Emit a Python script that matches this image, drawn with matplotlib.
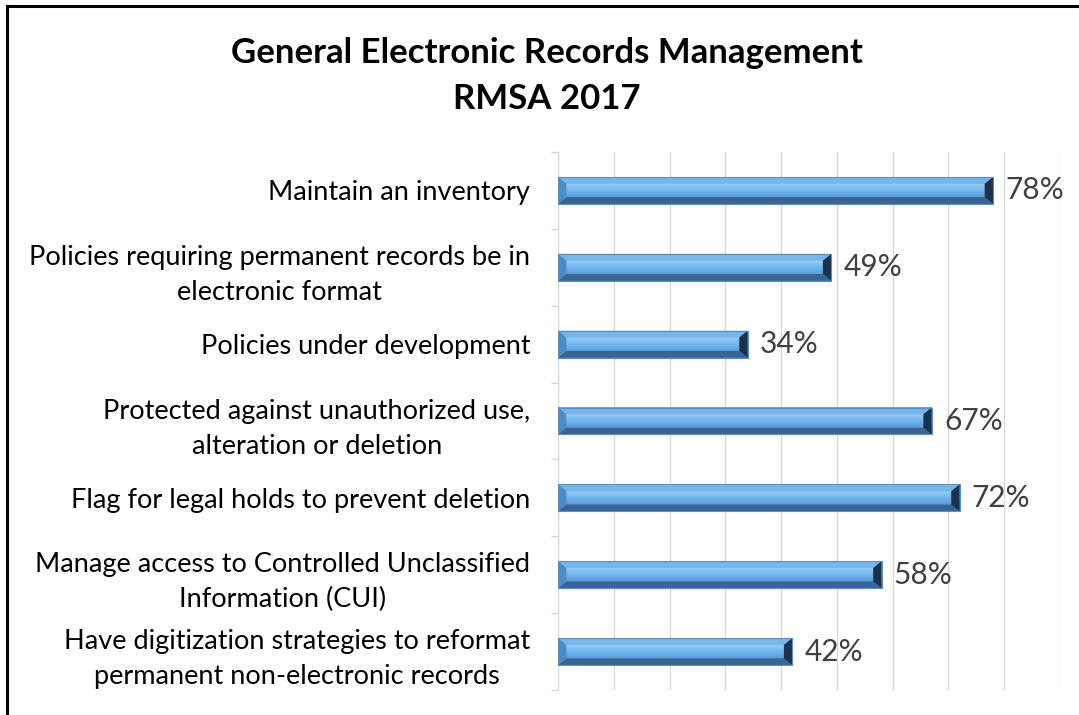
import numpy as np
import matplotlib.pyplot as plt
from matplotlib.colors import LinearSegmentedColormap
from matplotlib.patches import Polygon
from matplotlib.lines import Line2D

categories = [
    'Maintain an inventory',
    'Policies requiring permanent records be in\nelectronic format',
    'Policies under development',
    'Protected against unauthorized use,\nalteration or deletion',
    'Flag for legal holds to prevent deletion',
    'Manage access to Controlled Unclassified\nInformation (CUI)',
    'Have digitization strategies to reformat\npermanent non-electronic records',
]
values = [0.78, 0.49, 0.34, 0.67, 0.72, 0.58, 0.42]
title_lines = ['General Electronic Records Management', 'RMSA 2017']

plt.rcParams['font.family'] = ['Lato', 'DejaVu Sans']

fig = plt.figure(figsize=(10.79, 7.15), dpi=100)
ax = fig.add_axes([558 / 1079, 25 / 715, 502 / 1079, 538 / 715])

# vertical gradient for the bar face (top -> bottom)
face_cmap = LinearSegmentedColormap.from_list(
    'face', ['#5596d2', '#94cdf7', '#72b6ee', '#5a9cdb', '#4680bb'])
grad = np.linspace(0, 1, 64).reshape(-1, 1)

n = len(categories)
ypos = np.arange(n)[::-1]
h = 0.35
bx = 0.015
by = h * 0.25

for y, v in zip(ypos, values):
    y_top = y + h / 2
    y_bot = y - h / 2
    # face gradient
    ax.imshow(grad[::-1], extent=[0, v, y_bot, y_top], cmap=face_cmap,
              aspect='auto', origin='lower', zorder=3, interpolation='bilinear')
    # bevel faces
    top = Polygon([(0, y_top), (v, y_top), (v - bx, y_top - by), (bx, y_top - by)],
                  closed=True, fc='#78b5e8', ec='none', zorder=4)
    bot = Polygon([(0, y_bot), (v, y_bot), (v - bx, y_bot + by), (bx, y_bot + by)],
                  closed=True, fc='#3a6592', ec='none', zorder=4)
    left = Polygon([(0, y_top), (bx, y_top - by), (bx, y_bot + by), (0, y_bot)],
                   closed=True, fc='#4d8ac6', ec='none', zorder=5)
    right = Polygon([(v, y_top), (v - bx, y_top - by), (v - bx, y_bot + by), (v, y_bot)],
                    closed=True, fc='#1b324c', ec='none', zorder=5)
    for p in (top, bot, left, right):
        ax.add_patch(p)
    ax.plot([0, v, v, 0, 0], [y_top, y_top, y_bot, y_bot, y_top],
            color='#5b8fc4', lw=0.8, zorder=6)
    ax.text(v + 0.022, y, f'{v:.0%}', va='center', ha='left',
            fontsize=21.5, color='#404040', zorder=7)

ax.set_xlim(0, 0.9)
ax.set_ylim(-0.5, n - 0.5)
ax.set_xticks(np.arange(0, 0.91, 0.1))
ax.tick_params(axis='x', length=0, labelbottom=False)
ax.grid(axis='x', color='#d9d9d9', lw=1, zorder=0)
ax.set_axisbelow(True)

ax.set_yticks(ypos)
ax.set_yticklabels(categories, fontsize=19.5, color='#000000',
                   multialignment='center', linespacing=1.5)
ax.set_yticks(np.arange(-0.5, n, 1), minor=True)
ax.tick_params(axis='y', which='major', length=0, pad=20)
ax.tick_params(axis='y', which='minor', length=5, color='#d9d9d9', width=1)

for s in ['top', 'right', 'bottom']:
    ax.spines[s].set_visible(False)
ax.spines['left'].set_color('#d9d9d9')

fig.text(547 / 1079, 1 - 53 / 715, title_lines[0], ha='center', va='center',
         fontsize=25, fontweight='bold', color='#000000')
fig.text(547 / 1079, 1 - 99 / 715, title_lines[1], ha='center', va='center',
         fontsize=25, fontweight='bold', color='#000000')

# outer frame (left and top edges visible)
fig.add_artist(Line2D([7 / 1079, 7 / 1079], [0, 1 - 6 / 715],
                      transform=fig.transFigure, color='black', lw=2.2))
fig.add_artist(Line2D([7 / 1079, 1], [1 - 6 / 715, 1 - 6 / 715],
                      transform=fig.transFigure, color='black', lw=2.2))

fig.savefig('out.png', dpi=100)
